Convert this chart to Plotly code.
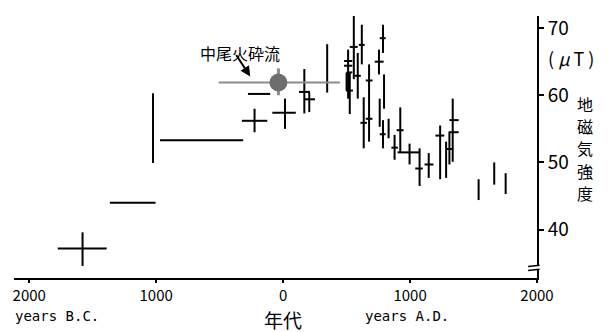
import plotly.graph_objects as go

# Archaeomagnetic intensity records: (year, year range, field, field range)
years    = [-1580, -1185, -1025, -645, -225, -190, 15, 167, 206, 347,
            512, 512, 500, 525, 525, 557, 588, 620, 635, 677,
            677, 755, 787, 795, 761, 787, 831, 878, 923, 996,
            1075, 1147, 1237, 1284, 1310, 1336, 1336, 1540, 1663, 1753]
year_lo  = [-1775, -1365, -1025, -970, -325, -277, -85, 125, 172, 347,
            480, 480, 500, 495, 500, 525, 565, 596, 609, 651,
            651, 722, 761, 795, 761, 761, 831, 853, 894, 902,
            1041, 1114, 1200, 1284, 1284, 1310, 1310, 1540, 1663, 1753]
year_hi  = [-1390, -1005, -1025, -315, -125, -102, 100, 212, 251, 347,
            545, 545, 500, 550, 545, 588, 612, 643, 661, 704,
            704, 792, 808, 795, 761, 808, 831, 904, 949, 1080,
            1100, 1184, 1270, 1284, 1336, 1383, 1383, 1540, 1663, 1753]
field    = [37.2, 44.0, 55.1, 53.3, 56.2, 60.2, 57.4, 60.5, 59.4, 64.0,
            65.1, 64.4, 62.0, 60.7, 63.4, 67.2, 62.9, 67.5, 55.9, 62.2,
            56.5, 65.0, 68.5, 60.5, 57.4, 54.2, 55.0, 52.2, 54.8, 51.5,
            49.1, 49.7, 54.0, 50.4, 52.0, 56.3, 54.5, 46.0, 48.4, 46.9]
field_lo = [34.6, 44.0, 49.9, 53.3, 54.5, 60.2, 55.0, 57.3, 57.5, 60.4,
            59.5, 64.4, 60.7, 57.2, 63.4, 62.4, 59.5, 64.6, 52.1, 53.1,
            56.5, 63.1, 66.3, 58.0, 55.3, 52.1, 53.6, 50.4, 51.4, 49.7,
            46.5, 47.7, 47.5, 47.7, 49.7, 50.1, 54.5, 44.4, 46.7, 45.3]
field_hi = [39.6, 44.0, 60.3, 53.3, 58.0, 60.2, 59.5, 63.9, 60.4, 67.6,
            66.8, 64.4, 63.4, 63.4, 63.4, 72.2, 66.3, 70.5, 59.7, 64.6,
            56.5, 66.8, 70.5, 63.1, 59.5, 56.3, 56.5, 54.1, 58.2, 52.8,
            52.1, 51.4, 55.5, 53.1, 54.6, 59.5, 54.5, 47.5, 50.0, 48.4]

# Nakao pyroclastic flow (中尾火砕流)
nakao_year, nakao_lo, nakao_hi = [-37], [-507], [447]
nakao_field, nakao_flo, nakao_fhi = [61.9], [60.0], [64.0]

x_ticks = [-2000, -1000, 0, 1000, 2000]
x_ticktext = ["2000", "1000", "0", "1000", "2000"]
y_ticks = [40, 50, 60, 70]
y_title_chars = ["地", "磁", "気", "強", "度"]

JP = "Noto Sans CJK JP"

# page body has an 8px margin: shrink the figure so it fits the window
W, H = 601, 324
L, T = 5, 5
PW, PH = 524, 265


def px_x(px):
    return (px - 8 - L) / PW


def px_y(py):
    return (T + 8 + PH - py) / PH


fig = go.Figure()

fig.add_trace(go.Scatter(
    x=years, y=field, mode="markers",
    marker=dict(size=1, color="rgba(0,0,0,0)"),
    error_x=dict(type="data", symmetric=False,
                 array=[h - c for h, c in zip(year_hi, years)],
                 arrayminus=[c - l for l, c in zip(year_lo, years)],
                 color="black", thickness=2, width=0),
    error_y=dict(type="data", symmetric=False,
                 array=[h - c for h, c in zip(field_hi, field)],
                 arrayminus=[c - l for l, c in zip(field_lo, field)],
                 color="black", thickness=2, width=0),
    hoverinfo="skip", showlegend=False))

fig.add_trace(go.Scatter(
    x=nakao_year, y=nakao_field, mode="markers",
    marker=dict(size=18, color="#6d6d6f"),
    error_x=dict(type="data", symmetric=False,
                 array=[nakao_hi[0] - nakao_year[0]],
                 arrayminus=[nakao_year[0] - nakao_lo[0]],
                 color="#8c8c8c", thickness=2, width=0),
    error_y=dict(type="data", symmetric=False,
                 array=[nakao_fhi[0] - nakao_field[0]],
                 arrayminus=[nakao_field[0] - nakao_flo[0]],
                 color="#8c8c8c", thickness=3, width=0),
    hoverinfo="skip", showlegend=False))

fig.update_layout(
    width=W, height=H,
    margin=dict(l=L, r=W - L - PW, t=T, b=H - T - PH),
    paper_bgcolor="white", plot_bgcolor="white",
    font=dict(family=JP, color="black"),
    xaxis=dict(range=[-2120, 2000], tickvals=x_ticks, ticktext=x_ticktext,
               showgrid=False, zeroline=False, showline=True,
               linecolor="black", linewidth=2, ticks="outside",
               ticklen=3, tickwidth=1.5, tickcolor="black",
               tickfont=dict(size=15, family=JP)),
    yaxis=dict(range=[32.8, 71.8], tickvals=y_ticks, side="right",
               showgrid=False, zeroline=False, showline=True,
               linecolor="black", linewidth=2, ticks="outside",
               ticklen=5, tickwidth=1.5, tickcolor="black",
               tickfont=dict(size=19, family=JP)),
)

# axis break on the y-axis
fig.add_shape(type="rect", xref="paper", yref="y", x0=0.99, x1=1.012,
              y0=34.0, y1=34.6, fillcolor="white", line=dict(width=0), layer="above")
for yb in (34.0, 34.6):
    fig.add_shape(type="line", xref="paper", yref="y", x0=0.983, x1=1.005,
                  y0=yb - 0.1, y1=yb + 0.1, line=dict(color="black", width=1.5))

ann = [
    dict(text="中尾火砕流", x=-337, y=66.3, xref="x", yref="y",
         showarrow=False, font=dict(size=16, family=JP)),
    dict(text="", x=-259, y=62.8, xref="x", yref="y", ax=-15, ay=-23,
         showarrow=True, arrowhead=2, arrowsize=1, arrowwidth=2, arrowcolor="black"),
    dict(text="(&nbsp;<i>μ</i>&nbsp;T&nbsp;)", x=px_x(571), y=px_y(55),
         xref="paper", yref="paper",
         showarrow=False, font=dict(size=18, family=JP)),
    dict(text="years B.C.", x=px_x(56), y=px_y(316), xref="paper", yref="paper",
         showarrow=False, font=dict(size=14, family="DejaVu Sans Mono")),
    dict(text="years A.D.", x=px_x(407), y=px_y(316), xref="paper", yref="paper",
         showarrow=False, font=dict(size=14, family="DejaVu Sans Mono")),
    dict(text="年代", x=0, y=px_y(320), xref="x", yref="paper",
         showarrow=False, font=dict(size=19, family=JP)),
]
for i, ch in enumerate(y_title_chars):
    ann.append(dict(text=ch, x=px_x(585), y=px_y(102 + 22.5 * i),
                    xref="paper", yref="paper", showarrow=False, borderpad=0,
                    font=dict(size=16, family=JP)))
for a in ann:
    if a["text"]:
        a["xanchor"] = "center"
        a["yanchor"] = "middle"
fig.update_layout(annotations=ann)

fig.write_html("out.html")
